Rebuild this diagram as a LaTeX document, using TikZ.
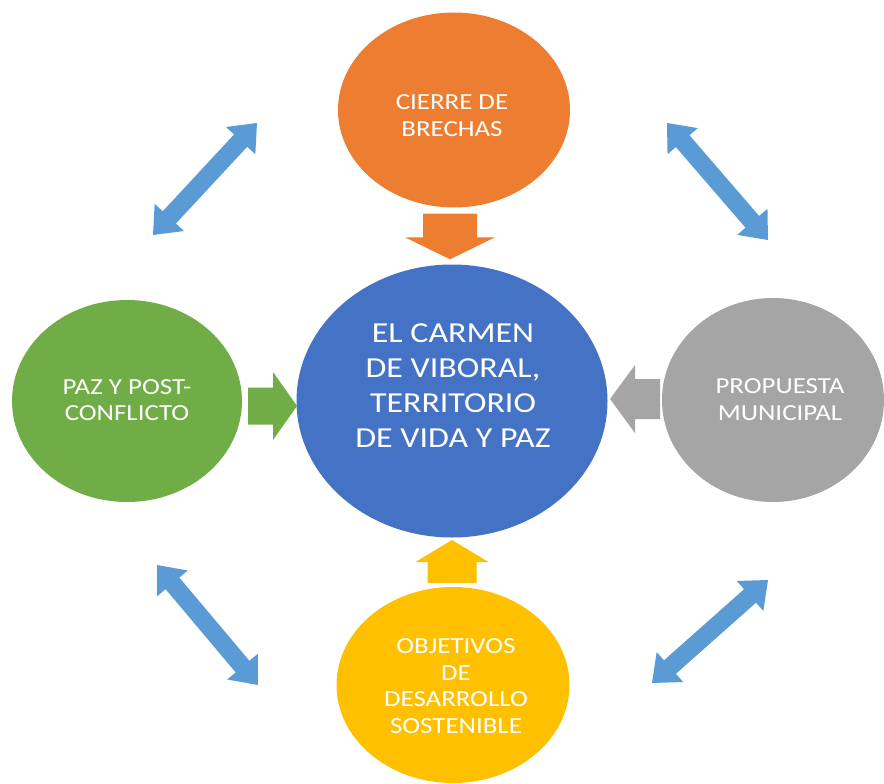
\documentclass[tikz,border=0pt]{standalone}
\usepackage{fontspec}
\setmainfont{Carlito}[FakeStretch=1.17]
\usetikzlibrary{calc,shapes.geometric}
\definecolor{corange}{HTML}{ED7D31}
\definecolor{cblue}{HTML}{4472C4}
\definecolor{cgreen}{HTML}{70AD47}
\definecolor{cgray}{HTML}{A5A5A5}
\definecolor{cgold}{HTML}{FFC000}
\definecolor{carrow}{HTML}{5B9BD5}
% #1 tail, #2 tip, #3 half shaft, #4 half head, #5 head length, #6 fill
\newcommand\blockarrow[6]{%
  \path ($(#2)!#5!(#1)$) coordinate (bh);
  \fill[#6] (#2) -- ($(bh)!#4!90:(#2)$) -- ($(bh)!#3!90:(#2)$)
    -- ($(#1)!#3!90:(#2)$) -- ($(#1)!#3!-90:(#2)$)
    -- ($(bh)!#3!-90:(#2)$) -- ($(bh)!#4!-90:(#2)$) -- cycle;}
% double arrow between #1 and #2
\newcommand\dblarrow[2]{%
  \path ($(#1)!24pt!(#2)$) coordinate (p1) ($(#2)!24pt!(#1)$) coordinate (p2);
  \fill[carrow] (#1) -- ($(p1)!20pt!90:(#1)$) -- ($(p1)!9pt!90:(#1)$)
    -- ($(p2)!9pt!-90:(#2)$) -- ($(p2)!20pt!-90:(#2)$) -- (#2)
    -- ($(p2)!20pt!90:(#2)$) -- ($(p2)!9pt!90:(#2)$)
    -- ($(p1)!9pt!-90:(#1)$) -- ($(p1)!20pt!-90:(#1)$) -- cycle;}
\begin{document}
\begin{tikzpicture}[x=1pt,y=-1pt,
  circ/.style={ellipse, inner sep=0pt, draw=none},
  lbl/.style={text=white, align=center, inner sep=0pt},
  small/.style={font=\fontsize{23}{26.5}\selectfont},
  big/.style={font=\fontsize{29}{35}\selectfont}]
\useasboundingbox (0,0) rectangle (884,784);
\fill[white] (0,0) rectangle (884,784);

% circles
\node[circ, fill=corange, minimum width=232pt, minimum height=195pt] (top) at (454,110) {};
\node[circ, fill=cblue, minimum width=311pt, minimum height=273pt] (mid) at (452,401) {};
\node[circ, fill=cgreen, minimum width=230pt, minimum height=202pt] (left) at (127,401) {};
\node[circ, fill=cgray, minimum width=222pt, minimum height=204pt] (right) at (773,400) {};
\node[circ, fill=cgold, minimum width=233pt, minimum height=196pt] (bot) at (453,685) {};

% labels
\node[lbl, small] (ttop) at (452,115.5) {CIERRE DE\\BRECHAS};
\node[lbl, big] (tmid) at (453,386) {EL CARMEN\\DE VIBORAL,\\TERRITORIO\\DE VIDA Y PAZ};
\node[lbl, small] (tleft) at (127,400) {PAZ Y POST-\\CONFLICTO};
\node[lbl, small] (tright) at (780,399.5) {PROPUESTA\\MUNICIPAL};
\node[lbl, small] (tbot) at (456,686) {OBJETIVOS\\DE\\DESARROLLO\\SOSTENIBLE};

% block arrows into the centre
\coordinate (o1) at ($(top.south)+(-4,6)$);
\coordinate (o2) at ($(mid.north)+(-2,-5)$);
\blockarrow{o1}{o2}{27pt}{45pt}{22pt}{corange}
\coordinate (g1) at (248,406);
\coordinate (g2) at (297,406);
\blockarrow{g1}{g2}{18.5pt}{34pt}{24pt}{cgreen}
\coordinate (r1) at (660,399);
\coordinate (r2) at (610,399);
\blockarrow{r1}{r2}{20pt}{34pt}{25pt}{cgray}
\coordinate (y1) at (452,583);
\coordinate (y2) at (452,540);
\blockarrow{y1}{y2}{24.5pt}{36.5pt}{22pt}{cgold}

% blue double arrows
\coordinate (tl1) at (153,235); \coordinate (tl2) at (257,123);
\coordinate (tr1) at (667,123); \coordinate (tr2) at (768,240);
\coordinate (bl1) at (157,565); \coordinate (bl2) at (258,685);
\coordinate (br1) at (652,683); \coordinate (br2) at (768,580);
\dblarrow{tl1}{tl2}
\dblarrow{tr1}{tr2}
\dblarrow{bl1}{bl2}
\dblarrow{br1}{br2}
\end{tikzpicture}
\end{document}
